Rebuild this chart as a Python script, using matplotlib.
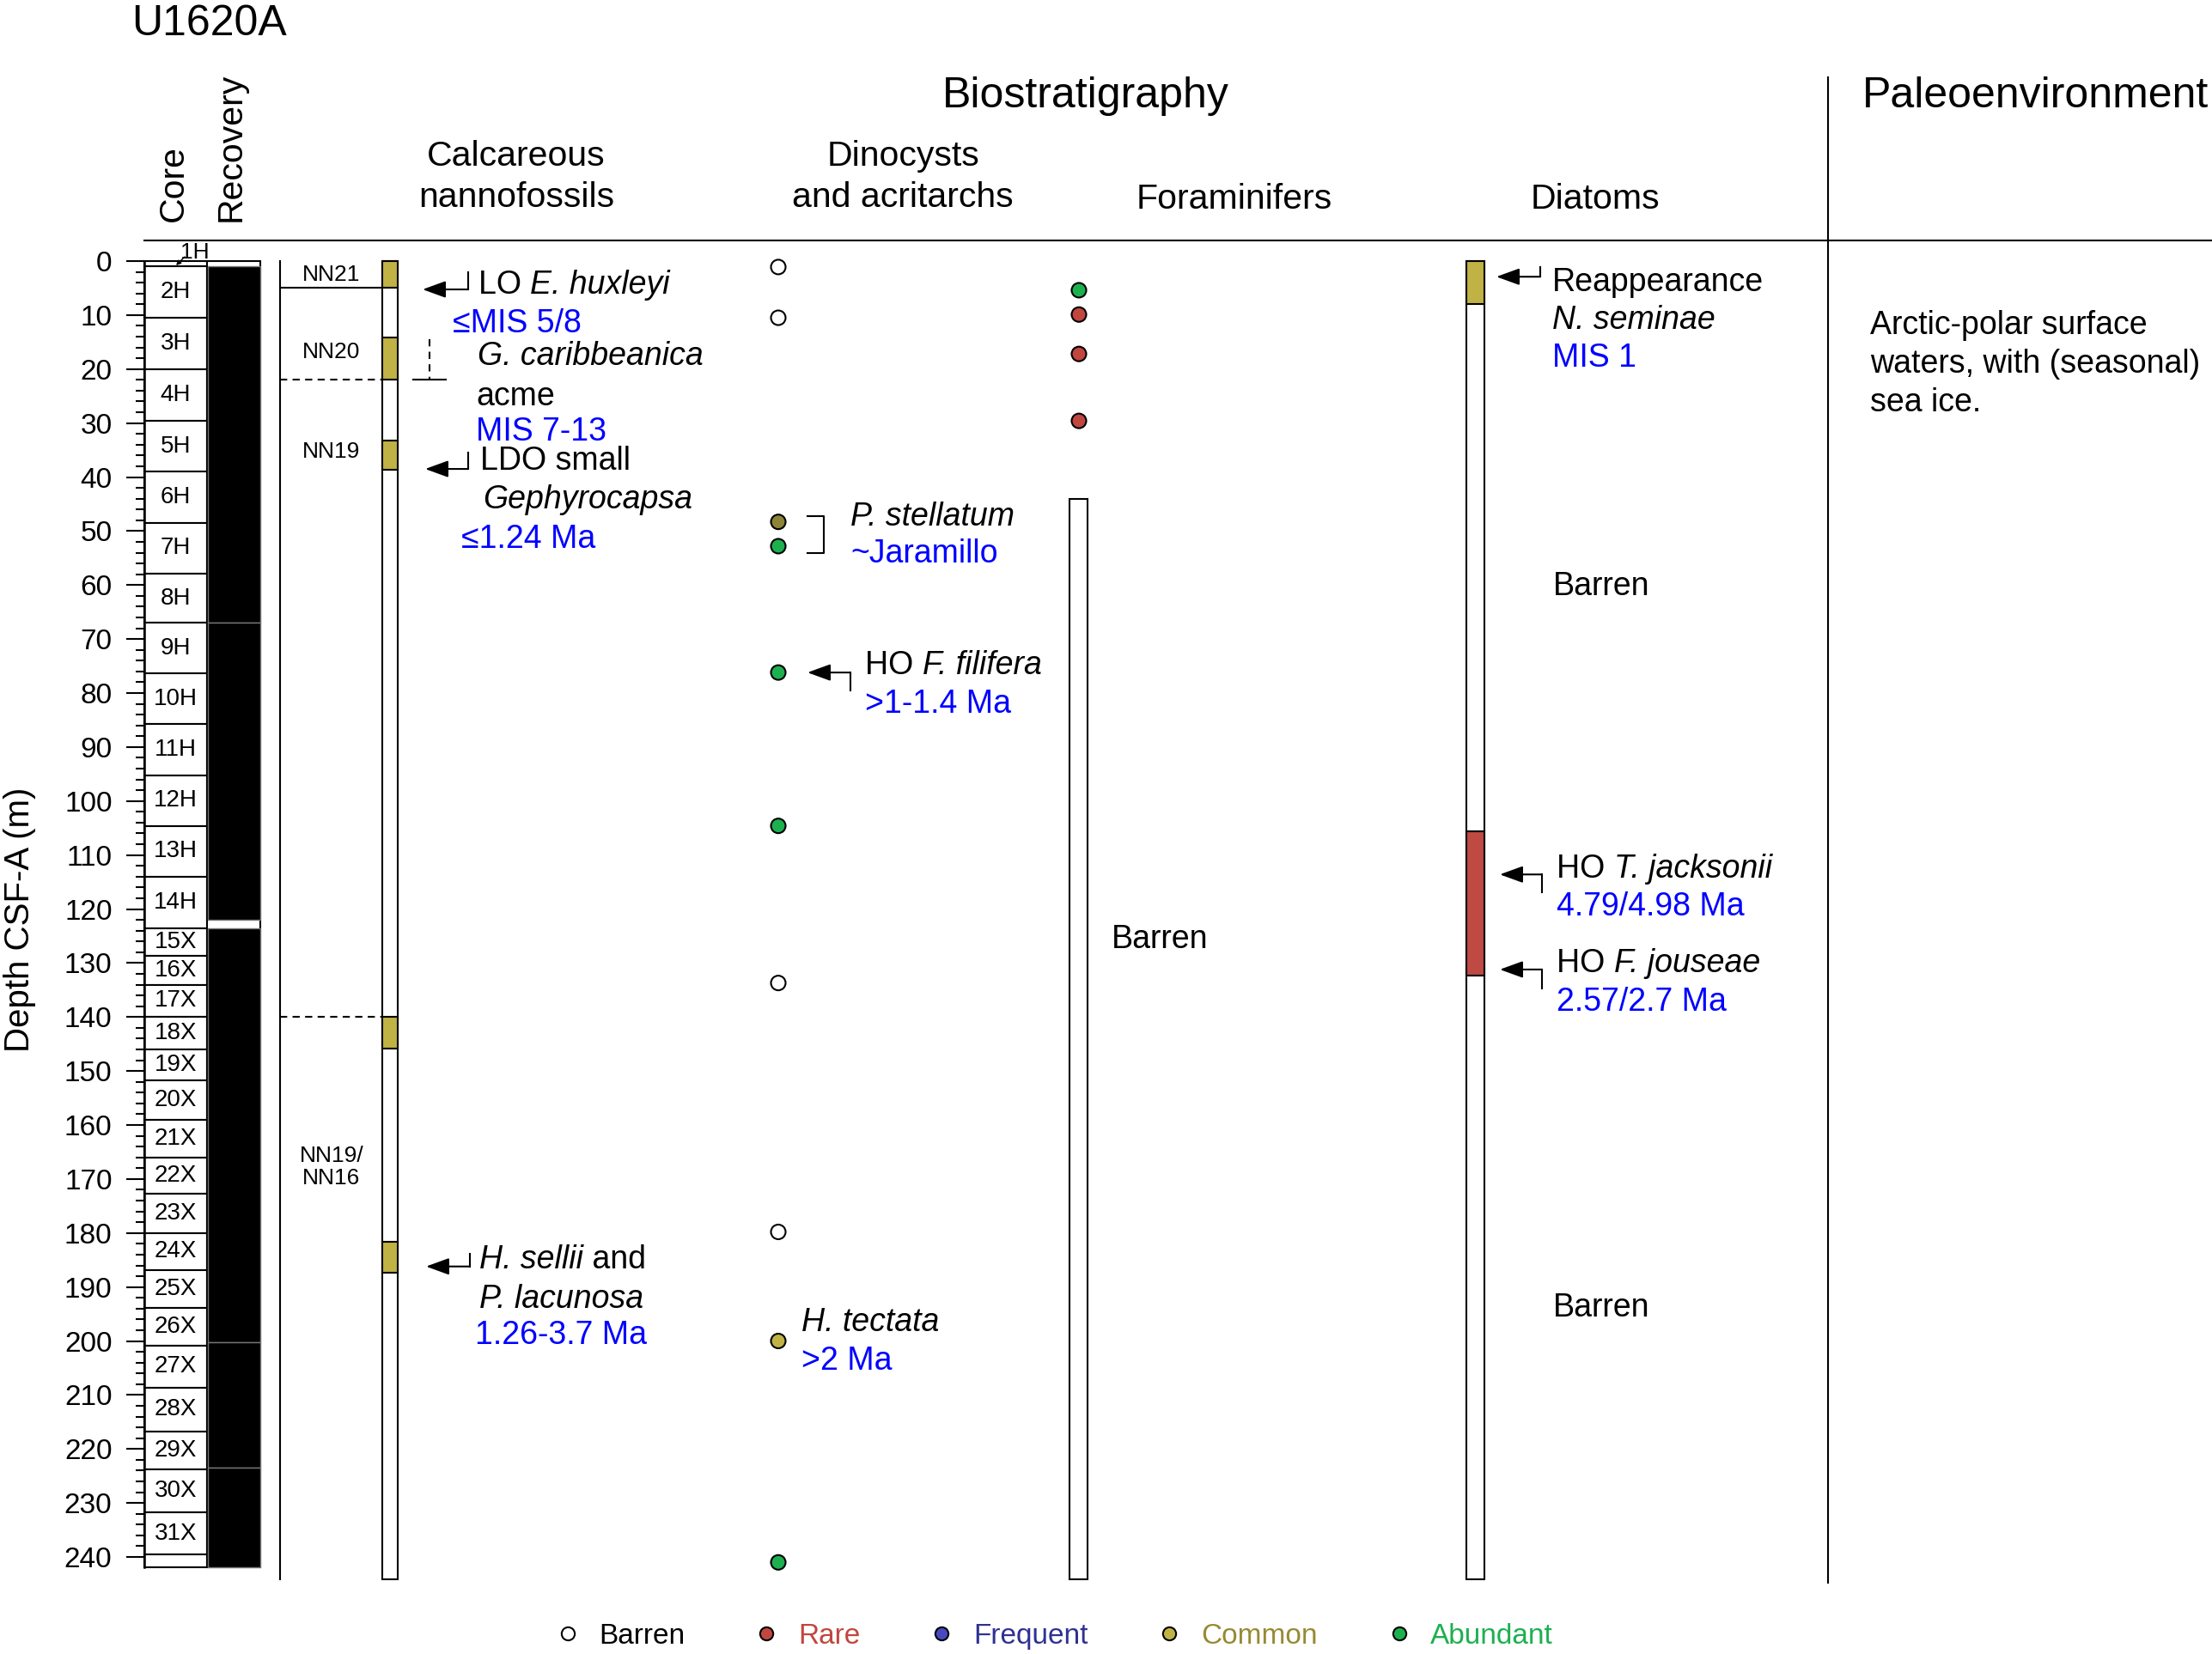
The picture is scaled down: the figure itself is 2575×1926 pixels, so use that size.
import matplotlib
matplotlib.use('Agg')
import matplotlib.pyplot as plt
from matplotlib.patches import Rectangle
from matplotlib.lines import Line2D

plt.rcParams['font.family'] = ['Liberation Sans', 'DejaVu Sans']

W, H = 2575, 1926
K = 6.2875   # pixels per metre
Y0 = 304     # pixel row of 0 m


def py(p):
    # pixel row -> depth (layout helper for headers)
    return (p - Y0) / K


# ---------------- data ----------------
core_names = ['1H', '2H', '3H', '4H', '5H', '6H', '7H', '8H', '9H', '10H', '11H', '12H', '13H', '14H',
              '15X', '16X', '17X', '18X', '19X', '20X', '21X', '22X', '23X', '24X', '25X', '26X',
              '27X', '28X', '29X', '30X', '31X', '']
core_bounds = [0, 1.0, 10.5, 20.0, 29.6, 39.0, 48.5, 57.9, 67.0, 76.4, 85.8, 95.2, 104.6, 114.0,
               123.5, 128.6, 134.0, 140.0, 146.0, 151.8, 159.0, 166.0, 172.8, 180.0, 186.8, 193.8,
               200.8, 208.7, 216.7, 223.7, 231.8, 239.6, 241.9]
recovered = [(1.0, 67.0), (67.0, 122.0), (123.5, 200.3), (200.3, 223.5), (223.5, 241.9)]

zone_names = ['NN21', 'NN20', 'NN19', 'NN19/\nNN16']
zone_label_depth = [2.5, 16.8, 35.3, 167.8]
zone_bounds = [4.9, 21.9, 140.0]
zone_bound_style = ['-', '--', '--']

nanno_common = [(0, 4.9), (14.2, 21.9), (33.2, 38.6), (140.0, 145.8), (181.7, 187.4)]

dino_depth = [1.1, 10.5, 48.3, 52.8, 76.2, 104.6, 133.7, 179.8, 200.0, 241.0]
dino_abund = ['Barren', 'Barren', 'Common', 'Abundant', 'Abundant', 'Abundant',
              'Barren', 'Barren', 'Common', 'Abundant']

foram_depth = [5.4, 9.9, 17.2, 29.6]
foram_abund = ['Abundant', 'Rare', 'Rare', 'Rare']
foram_barren = (44.0, 244.1)

diatom_common = (0, 8.0)
diatom_rare = (105.6, 132.4)

categories = ['Barren', 'Rare', 'Frequent', 'Common', 'Abundant']
cat_face = {'Barren': 'white', 'Rare': '#C0463F', 'Frequent': '#4848C0',
            'Common': '#C0B244', 'Abundant': '#1DB04F'}
cat_text = {'Barren': 'black', 'Rare': '#C0463F', 'Frequent': '#2E3192',
            'Common': '#978A33', 'Abundant': '#1DB04F'}

BLUE = '#0000FF'
YELLOW = '#C0B244'
RED = '#BF4A44'
BOTTOM = 244.1

# ---------------- figure ----------------
fig = plt.figure(figsize=(W / 100, H / 100), dpi=100)
ax = fig.add_axes([0, 0, 1, 1])
ax.set_xlim(0, W)
ax.set_ylim(py(H), py(0))
ax.axis('off')
renderer = fig.canvas.get_renderer()


def rect(x0, x1, d0, d1, fc='white', ec='black', lw=1.5, z=2):
    ax.add_patch(Rectangle((x0, d0), x1 - x0, d1 - d0, facecolor=fc, edgecolor=ec, lw=lw, zorder=z))


def arrow(x_left, x_right, d, tick):
    ax.annotate('', xy=(x_left, d), xytext=(x_right, d),
                arrowprops=dict(arrowstyle='-|>,head_length=0.55,head_width=0.2', color='black',
                                lw=1.5, mutation_scale=30, shrinkA=0, shrinkB=0))
    ax.plot([x_right, x_right], [d, d + tick], color='black', lw=1.5)


def txt(x, d, s, color='black', style='normal', size=27, **kw):
    return ax.text(x, d, s, color=color, style=style, fontsize=size, ha='left', va='center', **kw)


def mixed(x, d, parts):
    # parts: list of (string, style); pieces are laid side by side
    for s, st in parts:
        t = txt(x, d, s, style=st)
        x += t.get_window_extent(renderer).width   # 1 data unit == 1 pixel in x


# depth axis
axd = fig.add_axes([168 / W, 1 - 1825 / H, (303 - 168) / W, (1825 - Y0) / H])
axd.set_ylim(241.9, 0)
axd.set_xlim(0, 1)
axd.patch.set_alpha(0)
for s in ['top', 'right', 'bottom']:
    axd.spines[s].set_visible(False)
axd.spines['left'].set_linewidth(1.8)
axd.set_xticks([])
axd.set_yticks(range(0, 241, 10))
axd.set_yticks(range(0, 242, 2), minor=True)
axd.tick_params(axis='y', which='major', length=15, width=1.5, labelsize=24, pad=12)
axd.tick_params(axis='y', which='minor', length=7, width=1.5)
ax.text(23, py(1071), 'Depth CSF-A (m)', rotation=90, ha='center', va='center', fontsize=29)

# core column
for name, top, bot in zip(core_names, core_bounds[:-1], core_bounds[1:]):
    rect(168, 241, top, bot, lw=1.5)
    if name and name != '1H':
        ax.text(204.5, (top + bot) / 2, name, ha='center', va='center', fontsize=20, zorder=3)
ax.text(227, py(294), '1H', ha='center', va='center', fontsize=19)
ax.annotate('', xy=(205, py(309)), xytext=(215, py(299)),
            arrowprops=dict(arrowstyle='-|>', color='black', lw=1, mutation_scale=8, shrinkA=0, shrinkB=0))

# recovery column
rect(241, 303, 0, 241.9, lw=1.5)
for top, bot in recovered:
    rect(242, 303, top, bot, fc='black', ec='#777777', lw=1, z=3)

# nannofossil zones
ax.plot([326, 326], [0, BOTTOM], color='black', lw=1.5)
for b, ls in zip(zone_bounds, zone_bound_style):
    ax.plot([326, 445], [b, b], color='black', lw=1.5, ls=ls, dashes=(4, 3) if ls == '--' else (None, None))
for name, dz in zip(zone_names, zone_label_depth):
    ax.text(386, dz, name, ha='center', va='center', fontsize=19, linespacing=1.1)
rect(445, 463, 0, BOTTOM)
for top, bot in nanno_common:
    rect(445, 463, top, bot, fc=YELLOW, z=3)

# nannofossil events
arrow(492, 545, 5.25, -3.2)
mixed(557, 4.45, [('LO ', 'normal'), ('E. huxleyi', 'italic')])
txt(527, 11.6, '≤MIS 5/8', color=BLUE)
ax.plot([500, 500], [14.5, 21.9], color='black', lw=1.5, dashes=(4, 3))
ax.plot([481, 519], [21.9, 21.9], color='black', lw=1.5)
txt(556, 17.7, 'G. caribbeanica', style='italic')
txt(554, 25.1, 'acme')
txt(554, 31.6, 'MIS 7-13', color=BLUE)
arrow(495, 545, 38.5, -3.0)
txt(559, 37.1, 'LDO small')
txt(562, 44.2, 'Gephyrocapsa', style='italic')
txt(537, 51.5, '≤1.24 Ma', color=BLUE)
arrow(496, 547, 186.2, -2.4)
mixed(558, 185.0, [('H. sellii', 'italic'), (' and', 'normal')])
txt(558, 192.3, 'P. lacunosa', style='italic')
txt(553, 199.0, '1.26-3.7 Ma', color=BLUE)

# dinocysts
dino_face = [cat_face[a] for a in dino_abund]
dino_face[2] = '#8E8437'
ax.scatter([906] * len(dino_depth), dino_depth, s=150, c=dino_face, edgecolors='black',
           linewidths=1.5, zorder=4)
ax.plot([940, 959, 959, 940], [47.2, 47.2, 54.1, 54.1], color='black', lw=1.5)
txt(990, 47.4, 'P. stellatum', style='italic')
txt(990, 54.2, '~Jaramillo', color=BLUE)
arrow(940, 990, 76.2, 3.3)
mixed(1007, 74.9, [('HO ', 'normal'), ('F. filifera', 'italic')])
txt(1007, 82.1, '>1-1.4 Ma', color=BLUE)
txt(933, 196.6, 'H. tectata', style='italic')
txt(933, 203.7, '>2 Ma', color=BLUE)

# foraminifers
rect(1245, 1266, foram_barren[0], foram_barren[1])
ax.scatter([1256] * len(foram_depth), foram_depth, s=150, c=[cat_face[a] for a in foram_abund],
           edgecolors='black', linewidths=1.5, zorder=4)
txt(1294, 125.6, 'Barren')

# diatoms
rect(1707, 1728, 0, BOTTOM)
rect(1707, 1728, diatom_common[0], diatom_common[1], fc=YELLOW, z=3)
rect(1707, 1728, diatom_rare[0], diatom_rare[1], fc=RED, z=3)
arrow(1742, 1793, 2.9, -1.8)
txt(1807, 3.9, 'Reappearance')
txt(1807, 11.0, 'N. seminae', style='italic')
txt(1807, 17.9, 'MIS 1', color=BLUE)
txt(1808, 60.3, 'Barren')
arrow(1746, 1795, 113.6, 3.3)
mixed(1812, 112.6, [('HO ', 'normal'), ('T. jacksonii', 'italic')])
txt(1812, 119.6, '4.79/4.98 Ma', color=BLUE)
arrow(1746, 1795, 131.2, 3.5)
mixed(1812, 130.1, [('HO ', 'normal'), ('F. jouseae', 'italic')])
txt(1812, 137.2, '2.57/2.7 Ma', color=BLUE)
txt(1808, 193.9, 'Barren')

# paleoenvironment
ax.plot([2128, 2128], [py(90), py(1843)], color='black', lw=1.5)
ax.text(2177, py(424), 'Arctic-polar surface\nwaters, with (seasonal)\nsea ice.', fontsize=27,
        ha='left', va='center', linespacing=1.33)

# headers
ax.plot([168, W], [py(280), py(280)], color='black', lw=1.5)
ax.text(153, py(28), 'U1620A', fontsize=36, ha='left', va='center')
ax.text(202, py(258), 'Core', rotation=90, fontsize=29.5, ha='center', va='bottom')
ax.text(269, py(258), 'Recovery', rotation=90, fontsize=29.5, ha='center', va='bottom')
ax.text(1264, py(112), 'Biostratigraphy', fontsize=36, ha='center', va='center')
ax.text(2168, py(112), 'Paleoenvironment', fontsize=36, ha='left', va='center')
ax.text(601, py(206), 'Calcareous\nnannofossils', fontsize=29.5, ha='center', va='center', linespacing=1.35)
ax.text(1051, py(206), 'Dinocysts\nand acritarchs', fontsize=29.5, ha='center', va='center', linespacing=1.35)
ax.text(1437, py(232), 'Foraminifers', fontsize=29.5, ha='center', va='center')
ax.text(1857, py(232), 'Diatoms', fontsize=29.5, ha='center', va='center')

# legend
handles = [Line2D([], [], ls='', marker='o', markersize=11, markerfacecolor=cat_face[c],
                  markeredgecolor='black', markeredgewidth=1.5) for c in categories]
leg = fig.legend(handles, categories, loc='center', ncol=5, frameon=False, fontsize=24,
                 bbox_to_anchor=(1226 / W, 1 - 1905 / H), bbox_transform=fig.transFigure,
                 handlelength=1.0, handletextpad=0.6, columnspacing=2.35)
for t, c in zip(leg.get_texts(), categories):
    t.set_color(cat_text[c])

fig.savefig('out.png', dpi=100)
